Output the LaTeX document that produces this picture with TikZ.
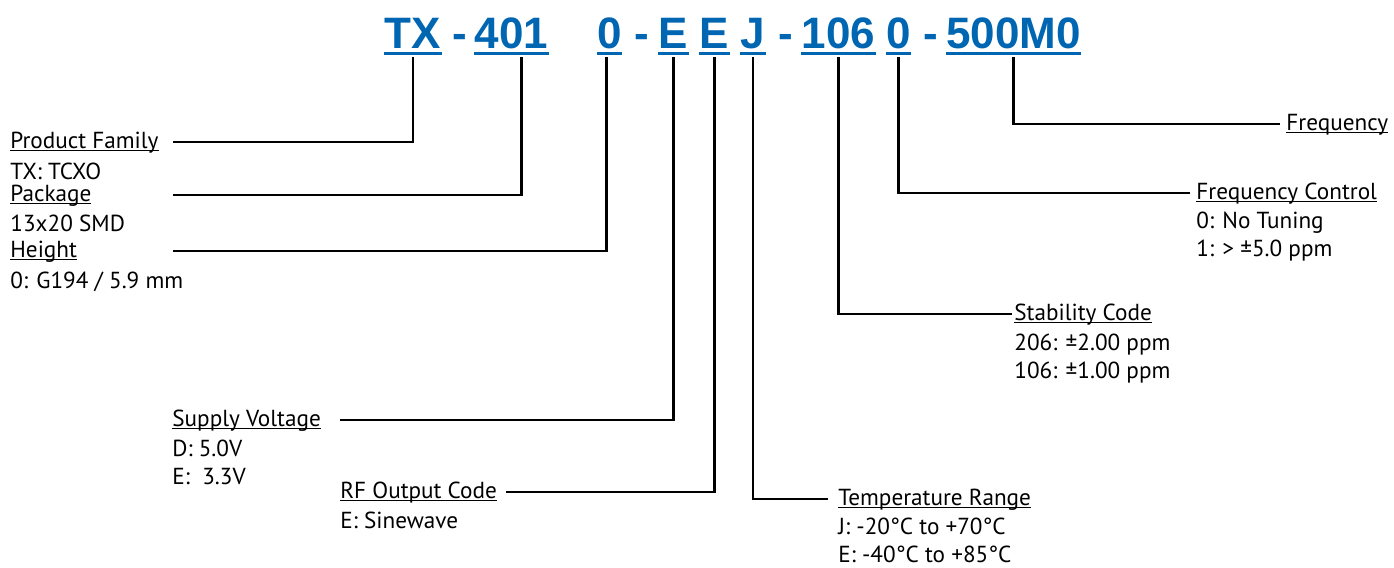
\documentclass[tikz,border=0pt]{standalone}
\usepackage{fontspec}
\setmainfont{PT Sans}
\newfontfamily\codefont{Liberation Sans}
\usetikzlibrary{calc}
\definecolor{codeblue}{RGB}{0,102,178}
\newcommand\ulabel[1]{\setbox0\hbox{#1}\rlap{\rule[-1.7pt]{\wd0}{0.55pt}}\box0}
\tikzset{
  code/.style={font=\codefont\bfseries\fontsize{22}{26}\selectfont, text=codeblue, inner sep=0pt, anchor=base},
  uline/.style={codeblue, line width=1.5pt},
  lbl/.style={font=\fontsize{11.6}{14}\selectfont, inner sep=0pt, anchor=base west},
  vals/.style={font=\fontsize{11.6}{14}\selectfont, inner sep=0pt, anchor=north west, align=left},
  conn/.style={line width=1.2pt},
}
\begin{document}
\begin{tikzpicture}[x=0.5pt,y=-0.5pt]
  \useasboundingbox (0,0) rectangle (1394,568);
  % Part number
  \node[code] (tx)   at (413,48)    {TX};
  \node[code] (d1)   at (459.5,48)  {-};
  \node[code] (c401) at (511.5,48)  {401};
  \node[code] (c0)   at (609.5,48)  {0};
  \node[code] (d2)   at (641.5,48)  {-};
  \node[code] (cE1)  at (673.5,48)  {E};
  \node[code] (cE2)  at (714.5,48)  {E};
  \node[code] (cJ)   at (753,48)    {J};
  \node[code] (d3)   at (785.5,48)  {-};
  \node[code] (c106) at (838.5,48)  {106};
  \node[code] (c0b)  at (898.5,48)  {0};
  \node[code] (d4)   at (931,48)    {-};
  \node[code] (c500) at (1013.5,48) {500M0};
  \foreach \c in {tx,c401,c0,cE1,cE2,cJ,c106,c0b,c500}
    \draw[uline] ([yshift=-2.5pt]\c.base west) -- ([yshift=-2.5pt]\c.base east);
  % Left labels
  \node[lbl]  (pfam)  at (10,148)  {\ulabel{Product Family}};
  \node[vals] (pfamv) at (10,163)  {TX: TCXO};
  \node[lbl]  (pkg)   at (10,201)  {\ulabel{Package}};
  \node[vals] (pkgv)  at (10,215)  {13x20 SMD};
  \node[lbl]  (hgt)   at (10,257)  {\ulabel{Height}};
  \node[vals] (hgtv)  at (10,272)  {0: G194 / 5.9 mm};
  \node[lbl]  (volt)  at (172,426) {\ulabel{Supply Voltage}};
  \node[vals] (voltv) at (172,440) {D: 5.0V\\E:\ \ 3.3V};
  \node[lbl]  (rfout) at (340,498) {\ulabel{RF Output Code}};
  \node[vals] (rfoutv) at (340,512) {E: Sinewave};
  % Right labels
  \node[lbl]  (temp)  at (838,505)  {\ulabel{Temperature Range}};
  \node[vals] (tempv) at (838,518)  {J: -20°C to +70°C\\E: -40°C to +85°C};
  \node[lbl]  (stab)  at (1014,320) {\ulabel{Stability Code}};
  \node[vals] (stabv) at (1014,334) {206: ±2.00 ppm\\106: ±1.00 ppm};
  \node[lbl]  (fctl)  at (1196,199) {\ulabel{Frequency Control}};
  \node[vals] (fctlv) at (1196,212) {0: No Tuning\\1: > ±5.0 ppm};
  \node[lbl]  (freq)  at (1286,130) {\ulabel{Frequency}};
  % Connectors
  \coordinate (lft) at ([xshift=7pt]pfam.east);
  \draw[conn] ([yshift=-4.5pt]tx.base) |- ($(pfam.base -| lft)+(0,3pt)$);
  \draw[conn] ([xshift=5pt,yshift=-4.5pt]c401.base) |- ($(pkg.base -| lft)+(0,3pt)$);
  \draw[conn] ([xshift=-1.5pt,yshift=-4.5pt]c0.base) |- ($(hgt.base -| lft)+(0,3pt)$);
  \draw[conn] ([yshift=-4.5pt]cE1.base) |- ([xshift=9.5pt,yshift=3pt]volt.base east);
  \draw[conn] ([yshift=-4.5pt]cE2.base) |- ([xshift=4.5pt,yshift=3pt]rfout.base east);
  \draw[conn] ([yshift=-4.5pt]cJ.base) |- ([xshift=-5pt,yshift=3pt]temp.base west);
  \draw[conn] ([yshift=-4.5pt]c106.base) |- ([xshift=-1pt,yshift=3pt]stab.base west);
  \draw[conn] ([yshift=-4.5pt]c0b.base) |- ([xshift=-3pt,yshift=3pt]fctl.base west);
  \draw[conn] ([yshift=-4.5pt]c500.base) |- ([xshift=-3pt,yshift=3pt]freq.base west);
\end{tikzpicture}
\end{document}
